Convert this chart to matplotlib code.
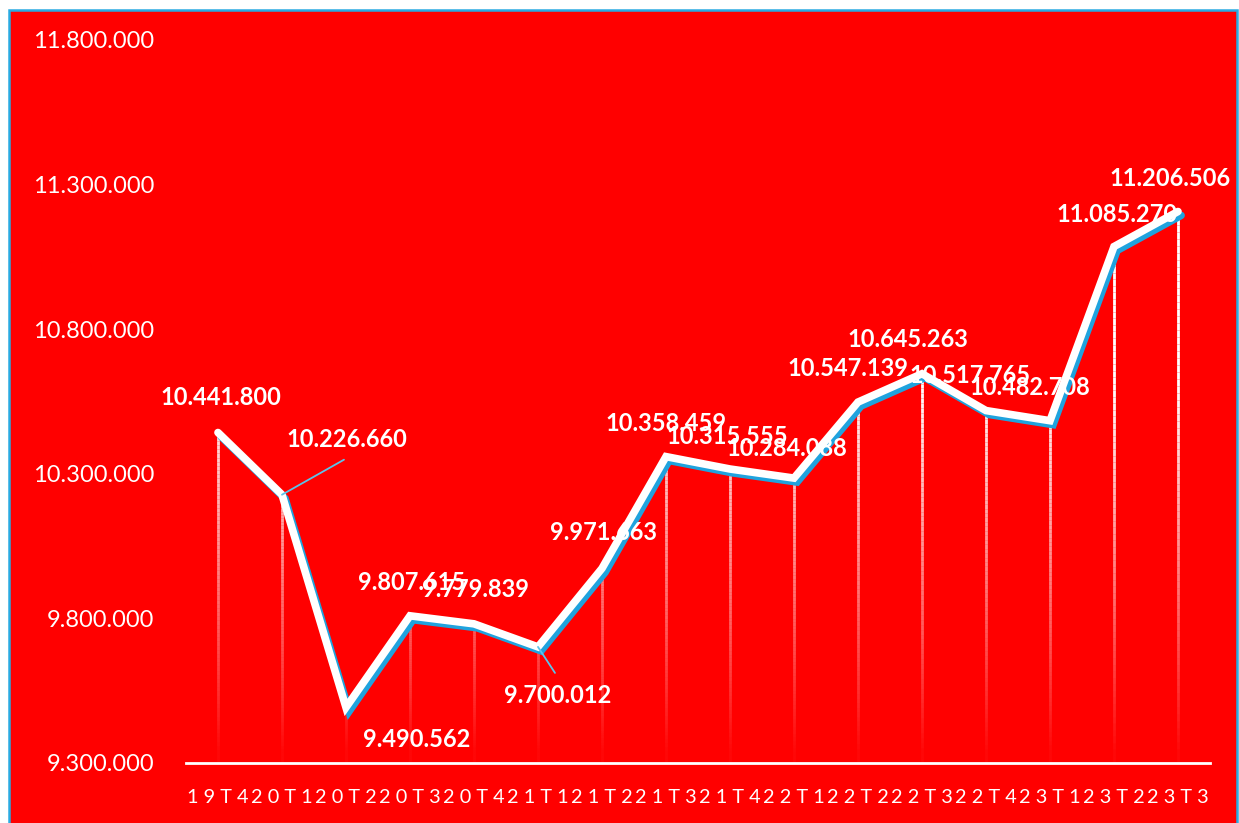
import matplotlib.pyplot as plt
import matplotlib.patheffects as pe
from matplotlib.collections import LineCollection
from matplotlib.patches import Rectangle
import numpy as np

plt.rcParams['font.family'] = ['Lato', 'DejaVu Sans']

# data
quarters = ['19T4', '20T1', '20T2', '20T3', '20T4', '21T1', '21T2', '21T3',
            '21T4', '22T1', '22T2', '22T3', '22T4', '23T1', '23T2', '23T3']
values = [10441800, 10226660, 9490562, 9807615, 9779839, 9700012, 9971663, 10358459,
          10315555, 10284088, 10547139, 10645263, 10517765, 10482708, 11085270, 11206506]
yticks = [9300000, 9800000, 10300000, 10800000, 11300000, 11800000]

# label offsets from each point, in pixels (layout only)
label_offsets = [(3, 35), (65, 55), (71, -32), (2, 33), (2, 34), (20, -49), (2, 36), (0, 33),
                 (-3, 33), (-7, 30), (-10, 34), (-14, 34), (-16, 35), (-20, 33), (3, 32), (-8, 33)]
leaders = {1: (62, 35), 5: (17, -26)}


def fmt(v):
    return f'{v:,}'.replace(',', '.')


fig = plt.figure(figsize=(12.39, 8.23), dpi=100)
fig.patch.set_facecolor('white')
fig.add_artist(Rectangle((9 / 1239, -0.01), 1228 / 1239, 813 / 823 + 0.01,
                         transform=fig.transFigure, facecolor='#FF0000',
                         edgecolor='#29ABE2', lw=1.8, zorder=-10))

ax = fig.add_axes([0.1501, 0.0735, 0.8265, 0.8779])
ax.set_facecolor('none')
ymin, ymax = yticks[0], yticks[-1]
x = np.arange(len(quarters))
ax.set_xlim(-0.5, len(quarters) - 0.5)
ax.set_ylim(ymin, ymax)

# fading drop lines
segs, cols = [], []
for xi, v in zip(x, values):
    ys = np.linspace(ymin, v, 80)
    for a, b in zip(ys[:-1], ys[1:]):
        segs.append([(xi, a), (xi, b)])
        alpha = np.clip(((a + b) / 2 - ymin) / 1.3e6, 0.03, 1.0)
        cols.append((1, 1, 1, alpha))
ax.add_collection(LineCollection(segs, colors=cols, linewidths=2, zorder=2))

# main line with blue shadow
ax.plot(x, values, color='white', lw=5.5, solid_capstyle='round', solid_joinstyle='miter',
        zorder=4,
        path_effects=[pe.SimpleLineShadow(offset=(2.2, -2.8), shadow_color='#1FA3DE', alpha=1),
                      pe.Normal()])

for i, (xi, v) in enumerate(zip(x, values)):
    dx, dy = label_offsets[i]
    ax.annotate(fmt(v), (xi, v), xytext=(dx, dy), textcoords='offset pixels',
                ha='center', va='center', color='white', fontsize=17,
                fontweight='bold', zorder=6)
    if i in leaders:
        lx, ly = leaders[i]
        ax.annotate('', (xi, v), xytext=(lx, ly), textcoords='offset pixels',
                    arrowprops=dict(arrowstyle='-', color='#5BC3EA', lw=1.3,
                                    shrinkA=0, shrinkB=0), zorder=5)

ax.set_yticks(yticks)
ax.set_yticklabels([fmt(t) for t in yticks])
ax.set_xticks(x)
# letter-spaced category labels, as in the reference
ax.set_xticklabels([' '.join(q) for q in quarters])
ax.tick_params(axis='y', length=0, pad=23, labelcolor='white', labelsize=17)
ax.tick_params(axis='x', length=0, pad=19, labelcolor='white', labelsize=14.3)

for s in ['left', 'top', 'right']:
    ax.spines[s].set_visible(False)
ax.spines['bottom'].set_color('white')
ax.spines['bottom'].set_linewidth(2)
ax.spines['bottom'].set_zorder(3)

plt.savefig('out.png', dpi=100, facecolor=fig.get_facecolor())
